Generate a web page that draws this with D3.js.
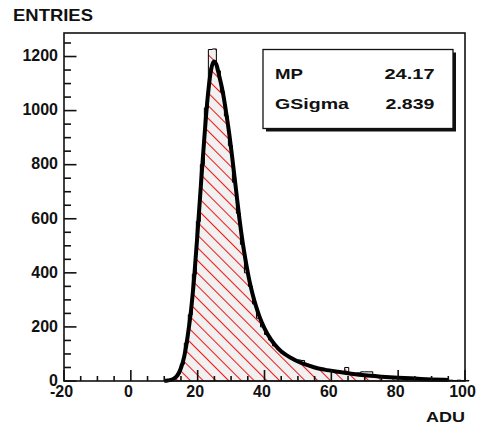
<!DOCTYPE html>
<html><head><meta charset="utf-8">
<script src="https://cdn.jsdelivr.net/npm/d3@7"></script>
<style>
body{margin:0;background:#fff;}
svg text{font-family:"Liberation Sans",Arial,sans-serif;font-weight:bold;fill:#111;}
</style></head>
<body><svg id="c" width="479" height="426"></svg>
<script>
// ---- data ----
const binStart = -20, binWidth = 1.2;
const counts = [
 0,0,0,0,0,0,0,0,0,0, 0,0,0,0,0,0,0,0,0,0, 0,0,0,0,0,
 2,4,10,26,62,140,245,395,590,800,
 1010,1226,1228,1147,1070,980,870,735,620,505,
 400,350,285,232,200,172,152,130,118,104,
 95,86,80,78,76,62,58,54,47,44,
 41,38,36,33,31,50,28,26,30,34,
 34,34,22,18,16,17,14,15,13,12,
 10,11,9,8,7,8,6,5,6,4,
 4,3,2,3,2,2
];
const fitX = [10,11,12,13,14,15,16,17,18,19,20,21,22,23,24,24.8,25.6,26.5,27.5,28.5,29.5,30.5,31.5,32.5,33.5,34.5,35.5,36.5,37.5,38.5,40,42,44,46,48,50,52,55,58,62,66,70,75,80,85,90,95];
const fitY = [1,2,4,10,22,48,92,165,260,390,555,730,900,1050,1150,1182,1170,1125,1070,995,910,810,705,600,510,435,370,318,275,238,195,152,122,100,85,72,62,50,42,34,27,21,16,12,9,6,4];
const xTicks = [-20,0,20,40,60,80,100];
const yTicks = [0,200,400,600,800,1000,1200];
const legendNames = ["MP","GSigma"];
const legendValues = ["24.17","2.839"];

// ---- layout ----
const svg = d3.select("#c");
const L=64,R=465,T=33,B=381;
const x = d3.scaleLinear().domain([-20,100]).range([L,R]);
const y = d3.scaleLinear().domain([0,1287]).range([B,T]);

const defs = svg.append("defs");
const pat = defs.append("pattern").attr("id","hatch").attr("patternUnits","userSpaceOnUse")
  .attr("width",9).attr("height",9).attr("patternTransform","rotate(-45)");
pat.append("rect").attr("width",9).attr("height",9).attr("fill","#f1f1f1");
pat.append("line").attr("x1",0.5).attr("y1",0).attr("x2",0.5).attr("y2",9).attr("stroke","#f01818").attr("stroke-width",1.1);

// histogram step path
const bins = counts.map((c,i)=>({x0:binStart+i*binWidth,x1:binStart+(i+1)*binWidth,c}));
const first = bins.findIndex(b=>b.c>0);
let p = d3.path();
p.moveTo(x(bins[first].x0), y(0));
for(let i=first;i<bins.length;i++){ p.lineTo(x(bins[i].x0), y(bins[i].c)); p.lineTo(x(bins[i].x1), y(bins[i].c)); }
p.lineTo(x(bins[bins.length-1].x1), y(0));
p.closePath();
svg.append("path").attr("d",p.toString()).attr("fill","url(#hatch)").attr("stroke","#000").attr("stroke-width",1);

// fit curve
const line = d3.line().x((d,i)=>x(fitX[i])).y(d=>y(d)).curve(d3.curveMonotoneX);
svg.append("path").attr("d",line(fitY)).attr("fill","none").attr("stroke","#000").attr("stroke-width",4).attr("stroke-linejoin","round");

// frame
svg.append("rect").attr("x",L).attr("y",T).attr("width",R-L).attr("height",B-T).attr("fill","none").attr("stroke","#111").attr("stroke-width",1.6);

// y ticks
const yMinor = d3.range(0,1287,50);
svg.append("g").selectAll("line").data(yMinor).join("line")
  .attr("x1",L).attr("x2",d=>L+(d%200===0?12.5:7)).attr("y1",d=>y(d)).attr("y2",d=>y(d))
  .attr("stroke","#111").attr("stroke-width",1.6);
svg.append("g").selectAll("text").data(yTicks).join("text")
  .attr("x",58).attr("y",d=>y(d)).attr("dy","0.3em").attr("text-anchor","end").attr("font-size",16).text(d=>d);
// x ticks
const xMinor = d3.range(-20,101,5);
svg.append("g").selectAll("line").data(xMinor).join("line")
  .attr("x1",d=>x(d)).attr("x2",d=>x(d)).attr("y1",B).attr("y2",d=>B-(d%20===0?11:5))
  .attr("stroke","#111").attr("stroke-width",1.6);
svg.append("g").selectAll("text").data(xTicks).join("text")
  .attr("x",d=>x(d)-2.5).attr("y",397).attr("text-anchor","middle").attr("font-size",16).text(d=>d);

// axis titles
svg.append("text").attr("x",13).attr("y",20.7).attr("font-size",16.5).attr("textLength",80).attr("lengthAdjust","spacingAndGlyphs").text("ENTRIES");
svg.append("text").attr("x",426).attr("y",421.5).attr("font-size",14).attr("textLength",39).attr("lengthAdjust","spacingAndGlyphs").text("ADU");

// legend box
const bx=263,by=49.5,bw=190,bh=79;
svg.append("rect").attr("x",bx+3).attr("y",by+3).attr("width",bw).attr("height",bh).attr("fill","#111");
svg.append("rect").attr("x",bx).attr("y",by).attr("width",bw).attr("height",bh).attr("fill","#fff").attr("stroke","#111").attr("stroke-width",1.3);
const baselines=[79,108.5];
const nameLen=[28,74], valLen=[50,49];
legendNames.forEach((n,i)=>{
  svg.append("text").attr("x",275).attr("y",baselines[i]).attr("font-size",15).attr("textLength",nameLen[i]).attr("lengthAdjust","spacingAndGlyphs").text(n);
  svg.append("text").attr("x",434.5-valLen[i]).attr("y",baselines[i]).attr("font-size",15).attr("textLength",valLen[i]).attr("lengthAdjust","spacingAndGlyphs").text(legendValues[i]);
});
</script></body></html>
